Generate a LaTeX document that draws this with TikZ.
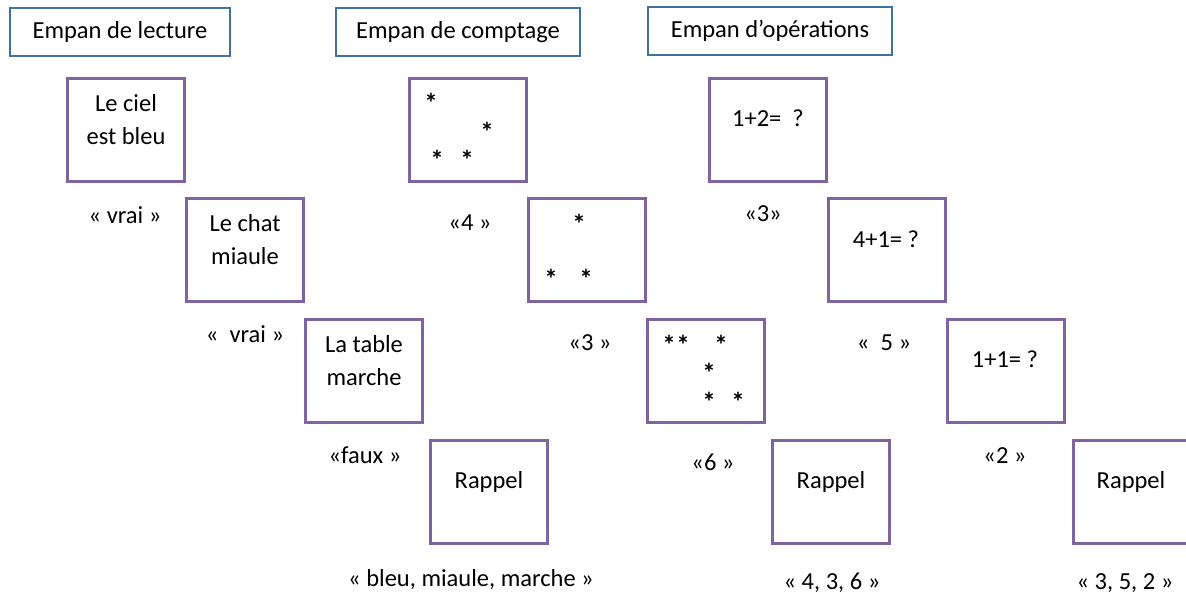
\documentclass[tikz,border=0pt]{standalone}
\usepackage{fontspec}
\setmainfont{Carlito}
\usetikzlibrary{positioning}
\definecolor{cardpurple}{RGB}{128,100,162}
\definecolor{hdrblue}{RGB}{65,113,156}
\tikzset{
  hdr/.style={draw=hdrblue, line width=1.6pt, minimum width=#1, minimum height=48pt,
    inner sep=0pt, font=\fontsize{24.5}{29}\selectfont},
  card/.style={draw=cardpurple, line width=3.2pt, minimum width=117pt, minimum height=103pt, inner sep=0pt},
  cardtxt/.style={anchor=base, align=center, inner sep=0pt, font=\fontsize{24.5}{33}\selectfont},
  answer/.style={anchor=base, inner sep=0pt, font=\fontsize{24.5}{29}\selectfont},
  ast/.style={anchor=base, inner sep=0pt, font=\fontsize{27}{29}\bfseries}
}

\begin{document}
\begin{tikzpicture}[x=1pt,y=-1pt]
 \useasboundingbox (0,0) rectangle (1186,594);
 \clip (0,0) rectangle (1186,594);
 % headings
 \node[hdr=220pt] (hlec) at (120,32) {Empan de lecture};
 \node[hdr=244pt] (hcpt) at (458,32) {Empan de comptage};
 \node[hdr=244pt] (hops) at (770,31) {Empan d’opérations};
 % cards
 \foreach \nm/\cx/\cy in {lec1/126/130, lec2/245/250, lec3/364/371, lec4/489/492,
                          cpt1/468/130, cpt2/587/250, cpt3/706/371, cpt4/831/492,
                          ops1/768/130, ops2/887/250, ops3/1006/371, ops4/1132/492}
   \node[card] (\nm) at (\cx,\cy) {};
 % reading span (base = last line)
 \node[cardtxt] (tlec1) at (126,144) {Le ciel\\est bleu};
 \node[cardtxt] (tlec2) at (245,264) {Le chat\\miaule};
 \node[cardtxt] (tlec3) at (364,385) {La table\\marche};
 \node[cardtxt] (tlec4) at (489,488) {Rappel};
 \node[answer] (alec1) at (125,223) {« vrai »};
 \node[answer] (alec2) at (245,342) {«~ vrai »};
 \node[answer] (alec3) at (365,463) {«faux »};
 \node[answer] (alec4) at (471,586) {« bleu, miaule, marche »};
 % counting span
 \foreach \sx/\sy [count=\k] in {431/98, 487/127, 437/155, 467/155,
                                 579/219, 551/274, 586/274,
                                 669/340, 683/340, 721/340, 709/368, 709/397, 738/397}
   \node[ast] (s\k) at (\sx,\sy+14) {*};
 \node[cardtxt] (tcpt4) at (831,488) {Rappel};
 \node[answer] (acpt1) at (470,230) {«4 »};
 \node[answer] (acpt2) at (590,350) {«3 »};
 \node[answer] (acpt3) at (713,470) {«6 »};
 \node[answer] (acpt4) at (832,589) {« 4, 3, 6 »};
 % operation span
 \node[cardtxt] (tops1) at (768,126) {1+2= ~?};
 \node[cardtxt] (tops2) at (886,247) {4+1= ?};
 \node[cardtxt] (tops3) at (1005,367) {1+1= ?};
 \node[cardtxt] (tops4) at (1131,488) {Rappel};
 \node[answer] (aops1) at (763,221) {«3»};
 \node[answer] (aops2) at (884,350) {«~ 5 »};
 \node[answer] (aops3) at (1005,463) {«2 »};
 \node[answer] (aops4) at (1125,589) {« 3, 5, 2 »};
\end{tikzpicture}
\end{document}
